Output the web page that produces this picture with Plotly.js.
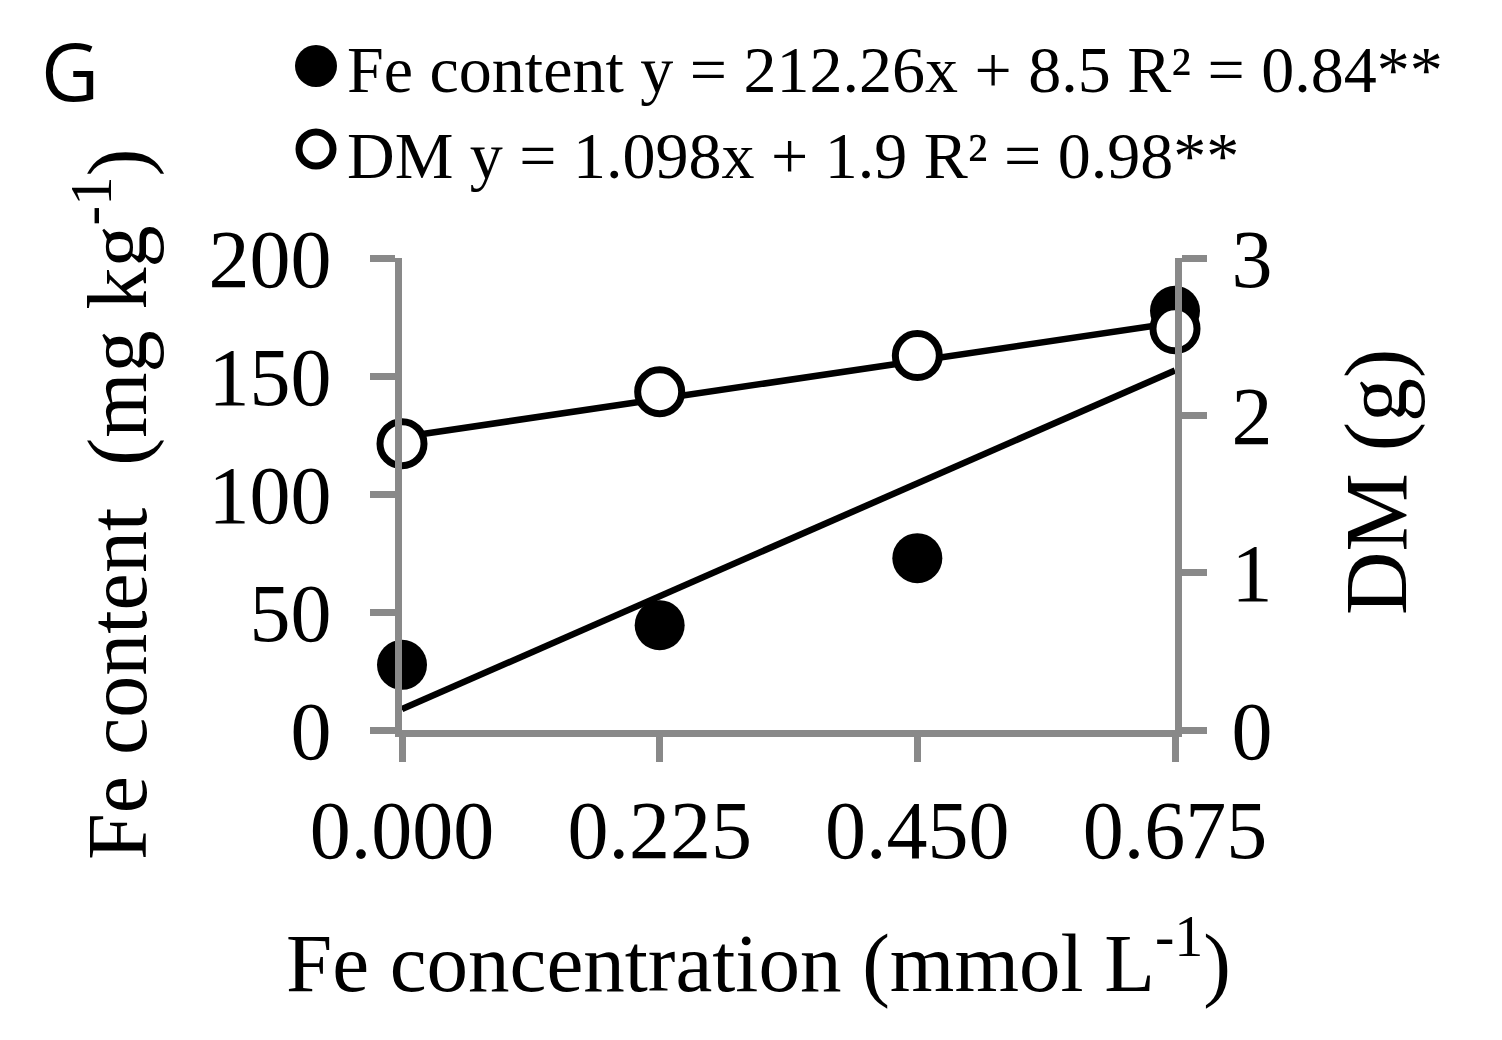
<!DOCTYPE html>
<html>
<head>
<meta charset="utf-8">
<script src="https://cdn.plot.ly/plotly-3.0.1.min.js"></script>
<style>
  html, body { margin: 0; padding: 0; background: #fff; }
  #plot { width: 1502px; height: 1040px; }
</style>
</head>
<body>
<div id="plot"></div>
<script>
// Fe concentration in the nutrient solution (mmol L-1).
const feConcentration = [ 0, 0.225, 0.45, 0.675 ];
const xTickText = [ '0.000', '0.225', '0.450', '0.675' ];

const feContent = [ 27.6, 44.4, 72.8, 177.6 ];   // mg kg-1, left axis
const dryMatter = [ 1.82, 2.15, 2.38, 2.55 ];     // g, right axis

const legendTexts = [
    'Fe content y = 212.26x + 8.5 R² = 0.84**',
    'DM y = 1.098x + 1.9 R² = 0.98**',
];

const serif = 'Liberation Serif, Times New Roman, serif';
const axisGray = '#898989';

// Least squares line, the way the spreadsheet trendline is drawn.
function linearFit(xs, ys) {
    const n = xs.length;
    const mx = xs.reduce((a, b) => a + b, 0) / n;
    const my = ys.reduce((a, b) => a + b, 0) / n;
    let sxy = 0;
    let sxx = 0;

    xs.forEach((x, i) => {
        sxy += (x - mx) * (ys[i] - my);
        sxx += (x - mx) * (x - mx);
    });

    const slope = sxy / sxx;
    const intercept = my - slope * mx;
    const ends = [ xs[0], xs[n - 1] ];

    return { x: ends, y: ends.map(x => intercept + slope * x) };
}

const feFit = linearFit(feConcentration, feContent);
const dmFit = linearFit(feConcentration, dryMatter);

const fitLine = { color: 'black', width: 6.5 };

const data = [
    {
        x: feFit.x, y: feFit.y, yaxis: 'y', type: 'scatter', mode: 'lines',
        line: fitLine, cliponaxis: false, hoverinfo: 'skip',
    },
    {
        x: dmFit.x, y: dmFit.y, yaxis: 'y2', type: 'scatter', mode: 'lines',
        line: fitLine, cliponaxis: false, hoverinfo: 'skip',
    },
    {
        x: feConcentration, y: dryMatter, yaxis: 'y2', type: 'scatter', mode: 'markers',
        name: legendTexts[1], cliponaxis: false,
        marker: { size: 44, color: 'white', line: { color: 'black', width: 7 } },
    },
    {
        x: feConcentration, y: feContent, yaxis: 'y', type: 'scatter', mode: 'markers',
        name: legendTexts[0], cliponaxis: false,
        marker: { size: 50, color: 'black' },
    },
];

// Plot area in pixels, used to turn picture positions into paper coordinates.
const margin = { l: 402, r: 327, t: 258, b: 310 };
const plotW = 1502 - margin.l - margin.r;
const plotH = 1040 - margin.t - margin.b;
const px = x => (x - margin.l) / plotW;
const py = y => (1040 - margin.b - y) / plotH;

const axisCommon = {
    showgrid: false,
    zeroline: false,
    showline: true,
    linecolor: axisGray,
    linewidth: 7,
    ticks: 'outside',
    ticklen: 25,
    tickwidth: 7,
    tickcolor: axisGray,
    tickfont: { family: serif, size: 82, color: 'black' },
    fixedrange: true,
};

const layout = {
    width: 1502,
    height: 1040,
    margin,
    paper_bgcolor: 'white',
    plot_bgcolor: 'white',
    showlegend: false,
    xaxis: {
        ...axisCommon,
        range: [ 0, 0.675 ],
        tickvals: feConcentration,
        ticktext: xTickText,
        ticklabelstandoff: -2,
    },
    yaxis: {
        ...axisCommon,
        range: [ 0, 200 ],
        tickvals: [ 0, 50, 100, 150, 200 ],
        ticklabelstandoff: 22,
    },
    yaxis2: {
        ...axisCommon,
        overlaying: 'y',
        side: 'right',
        range: [ 0, 3 ],
        tickvals: [ 0, 1, 2, 3 ],
        ticklabelstandoff: 8,
    },
    annotations: [
        {
            text: 'G', xref: 'paper', yref: 'paper', x: px(70), y: py(70),
            xanchor: 'center', yanchor: 'middle', showarrow: false,
            font: { family: 'Open Sans, sans-serif', size: 80, color: 'black' },
        },
        {
            text: legendTexts[0], xref: 'paper', yref: 'paper', x: px(345), y: py(70),
            xanchor: 'left', yanchor: 'middle', showarrow: false,
            font: { family: serif, size: 66, color: 'black' },
        },
        {
            text: legendTexts[1], xref: 'paper', yref: 'paper', x: px(345), y: py(156),
            xanchor: 'left', yanchor: 'middle', showarrow: false,
            font: { family: serif, size: 66, color: 'black' },
        },
        {
            text: 'Fe content  (mg kg<sup>-1</sup>)', xref: 'paper', yref: 'paper',
            x: px(112), y: py(504), textangle: -90,
            xanchor: 'center', yanchor: 'middle', showarrow: false,
            font: { family: serif, size: 84, color: 'black' },
        },
        {
            text: 'DM (g)', xref: 'paper', yref: 'paper',
            x: px(1376), y: py(482), textangle: -90,
            xanchor: 'center', yanchor: 'middle', showarrow: false,
            font: { family: serif, size: 88, color: 'black' },
        },
        {
            text: 'Fe concentration (mmol L<sup>-1</sup>)', xref: 'paper', yref: 'paper',
            x: px(758), y: py(956),
            xanchor: 'center', yanchor: 'middle', showarrow: false,
            font: { family: serif, size: 83, color: 'black' },
        },
    ],
    // Legend symbols, drawn by hand so they can be as large as in the picture.
    shapes: [
        {
            type: 'circle', xref: 'paper', yref: 'paper',
            xsizemode: 'pixel', ysizemode: 'pixel',
            xanchor: px(316), yanchor: py(66),
            x0: -21, x1: 21, y0: -21, y1: 21,
            fillcolor: 'black', line: { width: 0 },
        },
        {
            type: 'circle', xref: 'paper', yref: 'paper',
            xsizemode: 'pixel', ysizemode: 'pixel',
            xanchor: px(316), yanchor: py(149),
            x0: -17, x1: 17, y0: -17, y1: 17,
            fillcolor: 'white', line: { color: 'black', width: 7 },
        },
    ],
};

Plotly.newPlot('plot', data, layout, { displayModeBar: false, staticPlot: true });
</script>
</body>
</html>
